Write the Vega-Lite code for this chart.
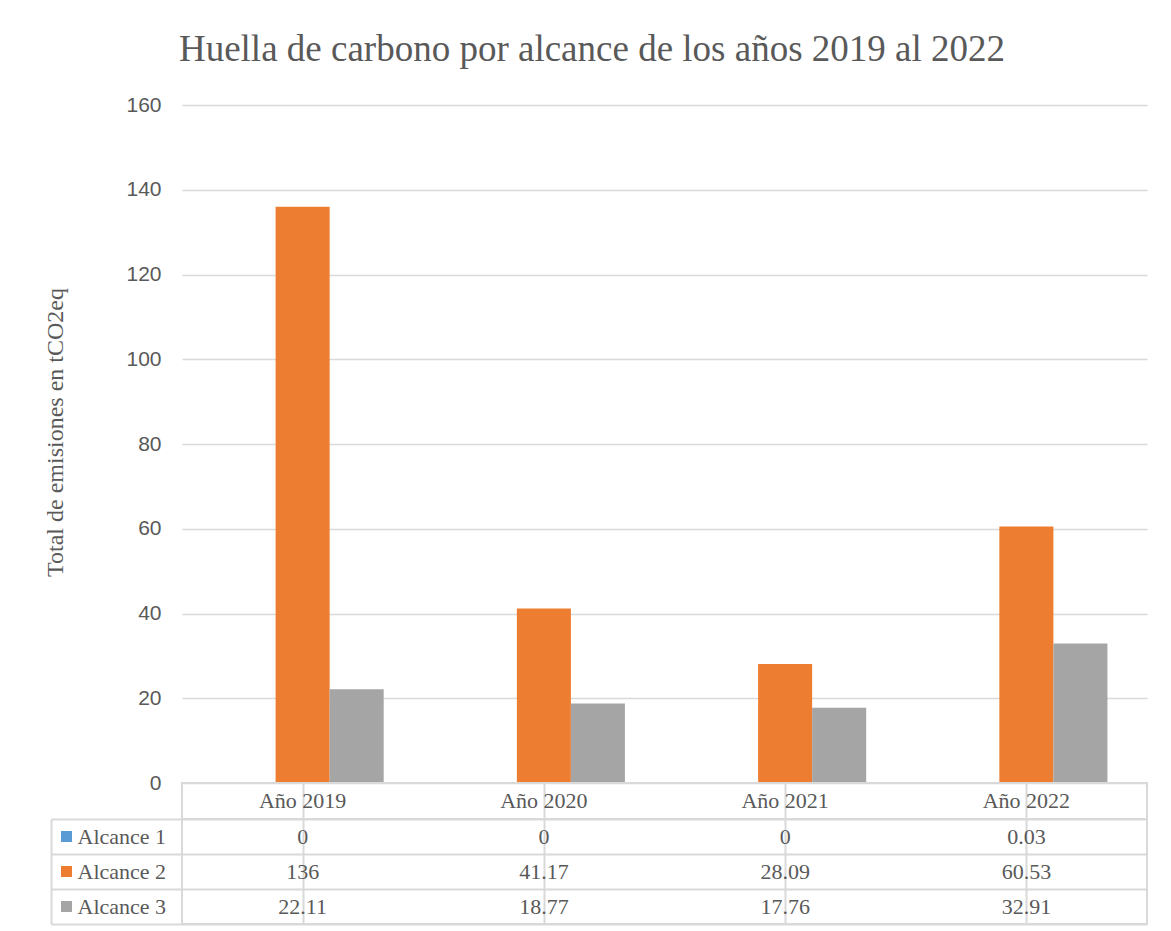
{
  "$schema": "https://vega.github.io/schema/vega-lite/v6.json",
  "padding": {"left": 43, "top": 31, "right": 20, "bottom": 5},
  "background": "white",
  "title": {"text": "Huella de carbono por alcance de los años 2019 al 2022", "font": "Liberation Serif", "fontSize": 37, "fontWeight": "normal", "color": "#595959", "anchor": "middle", "offset": 25, "dx": -4},
  "data": {"values": [
    {"anio": "Año 2019", "serie": "Alcance 1", "valor": 0},
    {"anio": "Año 2019", "serie": "Alcance 2", "valor": 136},
    {"anio": "Año 2019", "serie": "Alcance 3", "valor": 22.11},
    {"anio": "Año 2020", "serie": "Alcance 1", "valor": 0},
    {"anio": "Año 2020", "serie": "Alcance 2", "valor": 41.17},
    {"anio": "Año 2020", "serie": "Alcance 3", "valor": 18.77},
    {"anio": "Año 2021", "serie": "Alcance 1", "valor": 0},
    {"anio": "Año 2021", "serie": "Alcance 2", "valor": 28.09},
    {"anio": "Año 2021", "serie": "Alcance 3", "valor": 17.76},
    {"anio": "Año 2022", "serie": "Alcance 1", "valor": 0.03},
    {"anio": "Año 2022", "serie": "Alcance 2", "valor": 60.53},
    {"anio": "Año 2022", "serie": "Alcance 3", "valor": 32.91}
  ]},
  "spacing": 0,
  "bounds": "flush",
  "resolve": {"scale": {"color": "independent"}, "legend": {"color": "independent"}},
  "vconcat": [
    {
      "width": 965, "height": 678,
      "view": {"stroke": null},
      "mark": {"type": "bar"},
      "encoding": {
        "x": {"field": "anio", "type": "nominal", "sort": null, "scale": {"paddingInner": 0.328, "paddingOuter": 0.164}, "axis": null},
        "xOffset": {"field": "serie", "type": "nominal", "sort": null, "scale": {"paddingInner": 0, "paddingOuter": 0}},
        "y": {"field": "valor", "type": "quantitative", "scale": {"domain": [0, 160], "nice": false},
          "axis": {"values": [0, 20, 40, 60, 80, 100, 120, 140, 160], "title": "Total de emisiones en tCO2eq", "grid": true, "gridColor": "#d9d9d9", "gridWidth": 1.5, "domain": false, "ticks": false, "labelPadding": 21, "labelFont": "Liberation Sans", "labelFontSize": 21, "labelColor": "#595959", "titleFont": "Liberation Serif", "titleFontSize": 24, "titleFontWeight": "normal", "titleColor": "#595959", "titlePadding": 58, "titleY": 327}},
        "color": {"field": "serie", "type": "nominal", "scale": {"domain": ["Alcance 1", "Alcance 2", "Alcance 3"], "range": ["#5b9bd5", "#ed7d31", "#a5a5a5"]}, "legend": null}
      }
    },
    {
      "width": 965, "height": 36,
      "transform": [{"filter": "datum.serie === 'Alcance 1'"}],
      "mark": {"type": "text", "font": "Liberation Serif", "fontSize": 22, "color": "#595959"},
      "encoding": {
        "x": {"field": "anio", "type": "nominal", "sort": null, "scale": {"paddingInner": 0, "paddingOuter": 0},
          "axis": {"bandPosition": 0, "grid": true, "gridColor": "#d9d9d9", "gridWidth": 2, "labels": false, "ticks": false, "domain": false, "title": null}},
        "text": {"field": "anio", "type": "nominal"}
      }
    },
    {
      "width": 965, "height": 105,
      "encoding": {
        "x": {"field": "anio", "type": "nominal", "sort": null, "scale": {"paddingInner": 0, "paddingOuter": 0},
          "axis": {"bandPosition": 0, "grid": true, "gridColor": "#d9d9d9", "gridWidth": 2, "labels": false, "ticks": false, "domain": false, "title": null}}
      },
      "layer": [
        {
          "mark": {"type": "text", "font": "Liberation Serif", "fontSize": 22, "color": "#595959"},
          "encoding": {
            "y": {"field": "serie", "type": "nominal", "sort": null, "scale": {"domain": ["Alcance 1", "Alcance 2", "Alcance 3"], "paddingInner": 0, "paddingOuter": 0},
              "axis": {"orient": "left", "tickBand": "extent", "ticks": true, "tickSize": 131, "tickColor": "#d9d9d9", "tickWidth": 2, "grid": true, "gridColor": "#d9d9d9", "gridWidth": 2, "domain": false, "labelAlign": "left", "labelBaseline": "middle", "labelPadding": -26, "labelFont": "Liberation Serif", "labelFontSize": 22, "labelColor": "#595959", "title": null}},
            "text": {"field": "valor", "type": "quantitative", "format": ""}
          }
        },
        {
          "mark": {"type": "square", "opacity": 0},
          "encoding": {
            "y": {"field": "serie", "type": "nominal", "sort": null,
              "axis": {"orient": "left", "offset": 131, "domain": true, "domainColor": "#d9d9d9", "domainWidth": 2, "ticks": false, "labels": false, "grid": false, "title": null}},
            "color": {"field": "serie", "type": "nominal", "scale": {"domain": ["Alcance 1", "Alcance 2", "Alcance 3"], "range": ["#5b9bd5", "#ed7d31", "#a5a5a5"]},
              "legend": {"orient": "none", "legendX": -121, "legendY": 0, "title": null, "symbolType": "square", "symbolSize": 121, "symbolOpacity": 1, "symbolStrokeWidth": 0, "symbolOffset": 0, "labelFontSize": 11, "labelExpr": "''", "labelOffset": 0, "padding": 0, "rowPadding": 0, "clipHeight": 35}}
          }
        }
      ],
      "resolve": {"axis": {"y": "independent"}}
    }
  ],
  "config": {"view": {"stroke": "#d9d9d9", "strokeWidth": 2}}
}
